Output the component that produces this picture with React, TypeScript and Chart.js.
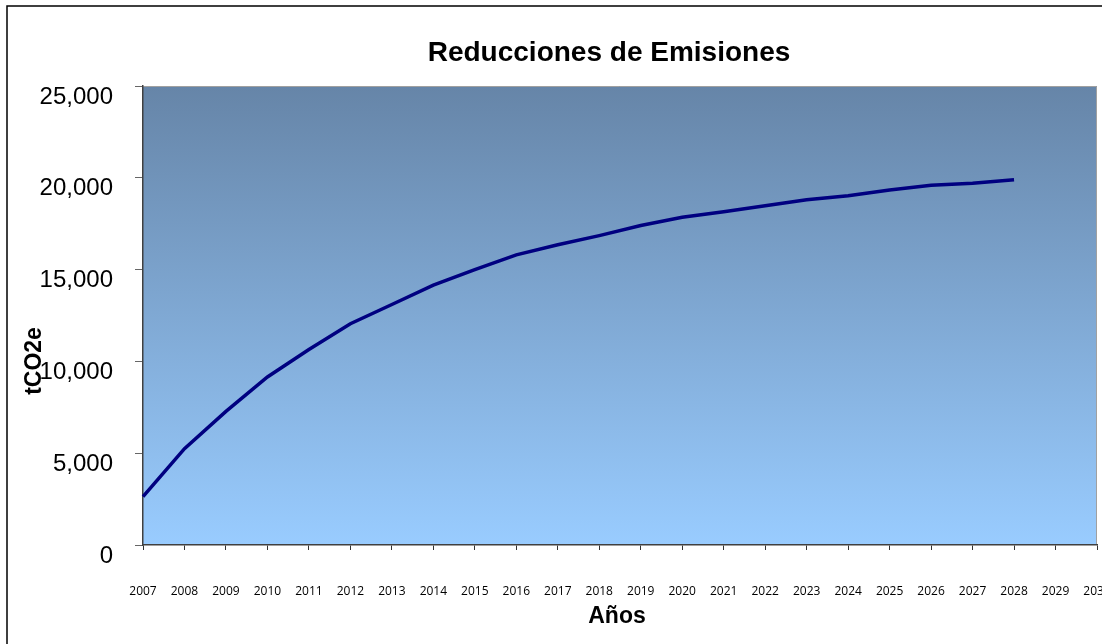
import React, { useEffect, useRef } from "react";
import { Chart, registerables } from "chart.js";

Chart.register(...registerables);

const years = ["2007","2008","2009","2010","2011","2012","2013","2014","2015","2016","2017","2018","2019","2020","2021","2022","2023","2024","2025","2026","2027","2028","2029","2030"];
const reductions = [2630, 5250, 7280, 9150, 10650, 12050, 13100, 14150, 15000, 15800, 16350, 16850, 17400, 17850, 18150, 18480, 18800, 19020, 19340, 19600, 19700, 19900];
const chartTitle = "Reducciones de Emisiones";
const xTitle = "Años";
const yTitle = "tCO2e";

const decorPlugin = {
  id: "decor",
  beforeDraw(chart: any) {
    const { ctx, chartArea: a } = chart;
    ctx.save();
    const g = ctx.createLinearGradient(0, a.top, 0, a.bottom);
    g.addColorStop(0, "#6685a8");
    g.addColorStop(1, "#99ccff");
    ctx.fillStyle = g;
    ctx.fillRect(a.left, a.top, a.right - a.left, a.bottom - a.top);
    ctx.strokeStyle = "#a0a0a0";
    ctx.lineWidth = 1;
    ctx.beginPath();
    ctx.moveTo(a.left, a.top + 0.5);
    ctx.lineTo(a.right - 0.5, a.top + 0.5);
    ctx.lineTo(a.right - 0.5, a.bottom);
    ctx.stroke();
    ctx.restore();
  },
  afterDraw(chart: any) {
    const { ctx } = chart;
    ctx.save();
    ctx.strokeStyle = "#000";
    ctx.lineWidth = 1.5;
    ctx.strokeRect(7, 6, 2000, 2000);
    ctx.fillStyle = "#000";
    ctx.textAlign = "center";
    ctx.textBaseline = "middle";
    ctx.font = "bold 28px 'Liberation Sans', Arial, sans-serif";
    ctx.fillText(chartTitle, 609, 53);
    ctx.font = "bold 23px 'Liberation Sans', Arial, sans-serif";
    ctx.fillText(xTitle, 617, 617);
    ctx.translate(35, 361);
    ctx.rotate(-Math.PI / 2);
    ctx.fillText(yTitle, 0, 0);
    ctx.restore();
  },
};

export default function App() {
  const ref = useRef<HTMLCanvasElement | null>(null);
  useEffect(() => {
    if (!ref.current) return;
    const chart = new Chart(ref.current, {
      type: "line",
      data: {
        labels: years,
        datasets: [
          {
            data: reductions,
            borderColor: "#000080",
            borderWidth: 3.5,
            pointRadius: 0,
            tension: 0,
            fill: false,
          },
        ],
      },
      options: {
        animation: false,
        responsive: false,
        maintainAspectRatio: false,
        layout: { padding: { top: 86, right: 5, left: 0, bottom: 0 } },
        plugins: { legend: { display: false }, tooltip: { enabled: false }, title: { display: false } },
        scales: {
          x: {
            type: "category",
            offset: false,
            grid: { drawOnChartArea: false, drawTicks: true, tickLength: 5, tickColor: "#333" },
            border: { color: "#404040", width: 1.5 },
            ticks: {
              autoSkip: false,
              maxRotation: 0,
              minRotation: 0,
              padding: 34,
              color: "#000",
              font: { family: "'Open Sans', sans-serif", size: 12 },
            },
            afterFit(scale: any) {
              scale.height = 99;
              scale.paddingLeft = 0;
              scale.paddingRight = 0;
            },
          },
          y: {
            min: 0,
            max: 25000,
            grid: { drawOnChartArea: false, drawTicks: true, tickLength: 8, tickColor: "#666" },
            border: { color: "#404040", width: 1.5 },
            ticks: {
              stepSize: 5000,
              padding: 22,
              labelOffset: 11,
              color: "#000",
              font: { family: "'Liberation Sans', Arial, sans-serif", size: 24 },
              callback: (v: any) => Number(v).toLocaleString("en-US"),
            },
            afterFit(scale: any) {
              scale.width = 143;
            },
          },
        },
      },
      plugins: [decorPlugin],
    });
    return () => chart.destroy();
  }, []);
  return (
    <div style={{ position: "fixed", left: 0, top: 0, width: 1102, height: 644, background: "#fff" }}>
      <canvas ref={ref} width={1102} height={644} style={{ display: "block", width: 1102, height: 644 }} />
    </div>
  );
}
